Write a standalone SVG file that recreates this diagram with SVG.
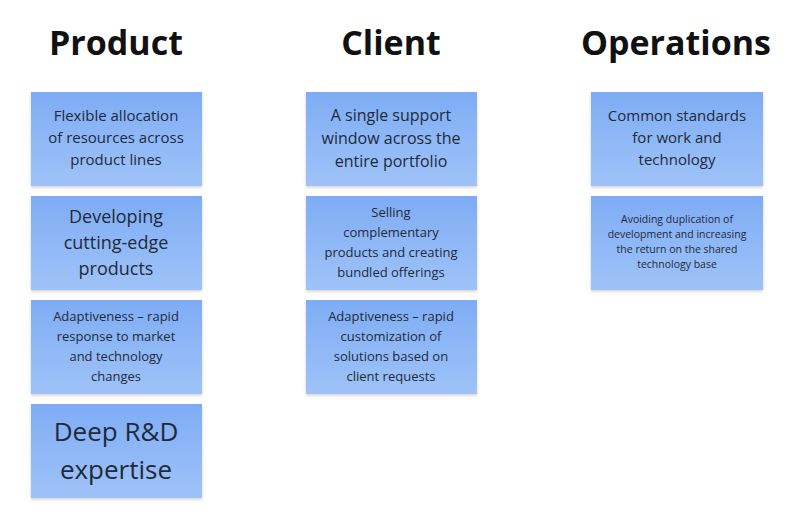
<svg xmlns="http://www.w3.org/2000/svg" width="800" height="526" viewBox="0 0 800 526">
<style>
text{font-family:"Open Sans","Noto Sans",sans-serif;fill:#1f2a3a;text-anchor:middle}
.h{font-weight:bold;font-size:34px;fill:#111}
.c{fill:url(#g);filter:url(#s)}
</style>
<defs>
<linearGradient id="g" x1="0" y1="0" x2="0" y2="1"><stop offset="0" stop-color="#7eacf4"/><stop offset="1" stop-color="#9fc3f8"/></linearGradient>
<filter id="s" x="-10%" y="-10%" width="120%" height="125%"><feDropShadow dx="0" dy="1.5" stdDeviation="1.5" flood-color="#000" flood-opacity="0.18"/></filter>
</defs>
<rect width="800" height="526" fill="#fff"/>
<text class="h" x="116" y="55">Product</text>
<text class="h" x="391" y="55">Client</text>
<text class="h" x="676" y="55">Operations</text>
<g id="p1"><rect class="c" x="31" y="92" width="171" height="94"/><text font-size="15"><tspan x="116" y="121">Flexible allocation</tspan><tspan x="116" y="143">of resources across</tspan><tspan x="116" y="165">product lines</tspan></text></g>
<g id="p2"><rect class="c" x="31" y="196" width="171" height="94"/><text font-size="18"><tspan x="116" y="223">Developing</tspan><tspan x="116" y="249">cutting-edge</tspan><tspan x="116" y="275">products</tspan></text></g>
<g id="p3"><rect class="c" x="31" y="300" width="171" height="94"/><text font-size="13"><tspan x="116" y="321">Adaptiveness – rapid</tspan><tspan x="116" y="341">response to market</tspan><tspan x="116" y="361">and technology</tspan><tspan x="116" y="381">changes</tspan></text></g>
<g id="p4"><rect class="c" x="31" y="404" width="171" height="94"/><text font-size="26"><tspan x="116" y="441">Deep R&amp;D</tspan><tspan x="116" y="479">expertise</tspan></text></g>
<g id="c1"><rect class="c" x="306" y="92" width="171" height="94"/><text font-size="16"><tspan x="391" y="121">A single support</tspan><tspan x="391" y="144">window across the</tspan><tspan x="391" y="167">entire portfolio</tspan></text></g>
<g id="c2"><rect class="c" x="306" y="196" width="171" height="94"/><text font-size="13"><tspan x="391" y="217">Selling</tspan><tspan x="391" y="237">complementary</tspan><tspan x="391" y="257">products and creating</tspan><tspan x="391" y="277">bundled offerings</tspan></text></g>
<g id="c3"><rect class="c" x="306" y="300" width="171" height="94"/><text font-size="13"><tspan x="391" y="321">Adaptiveness – rapid</tspan><tspan x="391" y="341">customization of</tspan><tspan x="391" y="361">solutions based on</tspan><tspan x="391" y="381">client requests</tspan></text></g>
<g id="o1"><rect class="c" x="591" y="92" width="172" height="94"/><text font-size="15"><tspan x="677" y="121">Common standards</tspan><tspan x="677" y="143">for work and</tspan><tspan x="677" y="165">technology</tspan></text></g>
<g id="o2"><rect class="c" x="591" y="196" width="172" height="94"/><text font-size="10.5"><tspan x="677" y="223">Avoiding duplication of</tspan><tspan x="677" y="238">development and increasing</tspan><tspan x="677" y="253">the return on the shared</tspan><tspan x="677" y="268">technology base</tspan></text></g>
<g id="connectors"/>
</svg>
